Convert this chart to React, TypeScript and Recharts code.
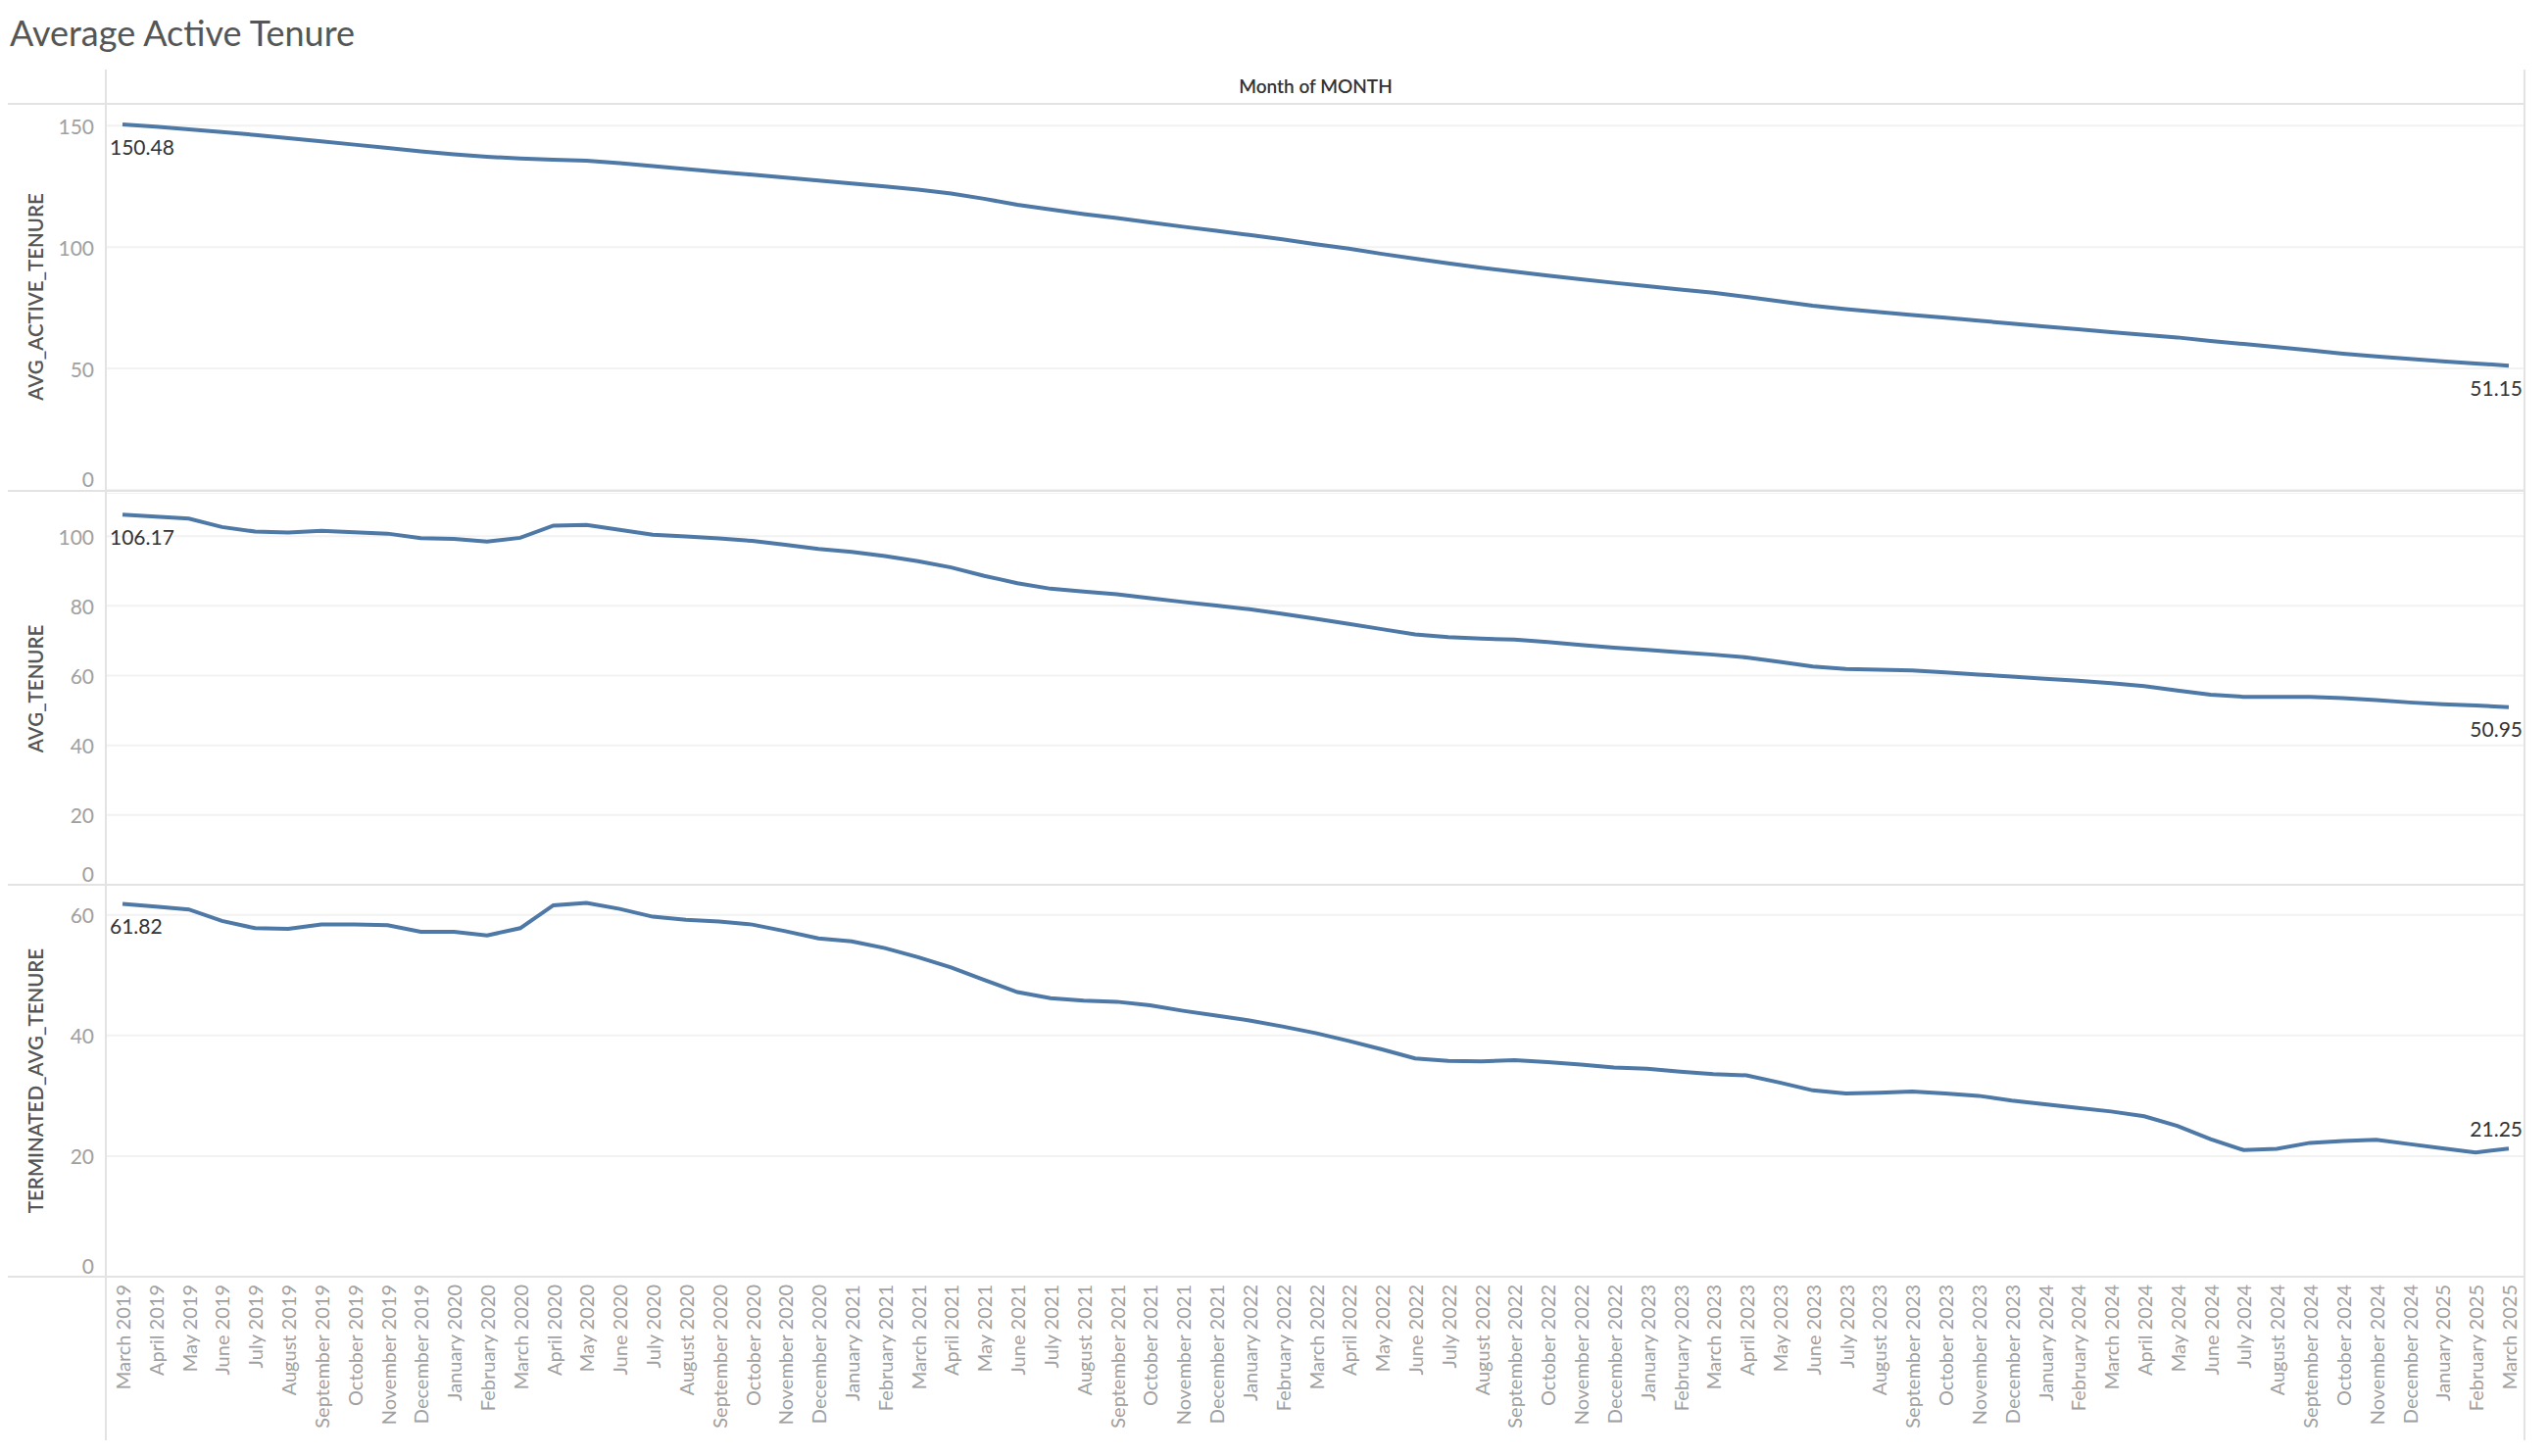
import React from 'react';
import { LineChart, Line, XAxis, YAxis, CartesianGrid, LabelList, Label } from 'recharts';

const MONTHS = [
  'March 2019', 'April 2019', 'May 2019', 'June 2019', 'July 2019', 'August 2019', 'September 2019', 'October 2019', 'November 2019', 'December 2019',
  'January 2020', 'February 2020', 'March 2020', 'April 2020', 'May 2020', 'June 2020', 'July 2020', 'August 2020', 'September 2020', 'October 2020', 'November 2020', 'December 2020',
  'January 2021', 'February 2021', 'March 2021', 'April 2021', 'May 2021', 'June 2021', 'July 2021', 'August 2021', 'September 2021', 'October 2021', 'November 2021', 'December 2021',
  'January 2022', 'February 2022', 'March 2022', 'April 2022', 'May 2022', 'June 2022', 'July 2022', 'August 2022', 'September 2022', 'October 2022', 'November 2022', 'December 2022',
  'January 2023', 'February 2023', 'March 2023', 'April 2023', 'May 2023', 'June 2023', 'July 2023', 'August 2023', 'September 2023', 'October 2023', 'November 2023', 'December 2023',
  'January 2024', 'February 2024', 'March 2024', 'April 2024', 'May 2024', 'June 2024', 'July 2024', 'August 2024', 'September 2024', 'October 2024', 'November 2024', 'December 2024',
  'January 2025', 'February 2025', 'March 2025',
];

const AVG_ACTIVE_TENURE = [
  150.48, 149.6, 148.5, 147.4, 146.2, 144.9, 143.6, 142.2, 140.8, 139.4,
  138.2, 137.2, 136.5, 136.0, 135.6, 134.6, 133.4, 132.2, 131.0, 129.8, 128.6, 127.4,
  126.2, 125.0, 123.7, 122.1, 119.9, 117.4, 115.5, 113.6, 112.0, 110.2, 108.4, 106.7,
  105.0, 103.2, 101.2, 99.4, 97.2, 95.2, 93.3, 91.5, 89.9, 88.3, 86.8, 85.3,
  83.9, 82.5, 81.2, 79.5, 77.7, 75.9, 74.5, 73.2, 72.0, 70.9, 69.7, 68.5,
  67.3, 66.2, 65.0, 63.9, 62.8, 61.3, 60.1, 58.8, 57.5, 56.1, 55.0, 54.0,
  53.0, 52.1, 51.15,
];

const AVG_TENURE = [
  106.17, 105.6, 105.0, 102.6, 101.3, 101.0, 101.5, 101.1, 100.7, 99.4,
  99.2, 98.4, 99.5, 103.0, 103.2, 101.8, 100.4, 99.9, 99.3, 98.6, 97.5, 96.3,
  95.5, 94.3, 92.8, 91.0, 88.6, 86.5, 84.9, 84.1, 83.3, 82.2, 81.1, 80.1,
  79.0, 77.7, 76.3, 74.8, 73.3, 71.8, 71.0, 70.6, 70.3, 69.6, 68.8, 68.0,
  67.4, 66.7, 66.0, 65.2, 63.9, 62.6, 61.9, 61.7, 61.5, 60.9, 60.3, 59.7,
  59.1, 58.5, 57.8, 57.0, 55.7, 54.5, 53.9, 53.9, 53.9, 53.5, 53.0, 52.3,
  51.8, 51.4, 50.95,
];

const TERMINATED_AVG_TENURE = [
  61.82, 61.4, 60.9, 59.0, 57.8, 57.7, 58.4, 58.4, 58.3, 57.2,
  57.2, 56.6, 57.8, 61.6, 62.0, 61.0, 59.7, 59.2, 58.9, 58.4, 57.3, 56.1,
  55.6, 54.5, 53.0, 51.3, 49.2, 47.2, 46.2, 45.8, 45.6, 45.0, 44.1, 43.3,
  42.5, 41.5, 40.4, 39.1, 37.7, 36.2, 35.8, 35.7, 35.9, 35.6, 35.2, 34.7,
  34.5, 34.0, 33.6, 33.4, 32.2, 30.9, 30.4, 30.5, 30.7, 30.4, 30.0, 29.2,
  28.6, 28.0, 27.4, 26.6, 25.0, 22.8, 21.0, 21.2, 22.2, 22.5, 22.7, 22.0,
  21.3, 20.6, 21.25,
];

const TICKS_ACTIVE = [0, 50, 100, 150];
const TICKS_AVG = [0, 20, 40, 60, 80, 100];
const TICKS_TERM = [0, 20, 40, 60];

const data = MONTHS.map((m, i) => ({
  month: m,
  AVG_ACTIVE_TENURE: AVG_ACTIVE_TENURE[i],
  AVG_TENURE: AVG_TENURE[i],
  TERMINATED_AVG_TENURE: TERMINATED_AVG_TENURE[i],
}));

const FONT = 'Lato, "Open Sans", sans-serif';
const LINE_COLOR = '#4E79A7';
const DIVIDER = '#e3e3e3';
const TICK_COLOR = '#a0a0a0';

const YTick = (props: any) => {
  const { x, y, payload } = props;
  const isZero = payload.value === 0;
  return (
    <text x={x} y={isZero ? y - 12 : y} textAnchor="end" dominantBaseline="central"
      fill={TICK_COLOR} fontSize={21} fontFamily={FONT}>
      {payload.value}
    </text>
  );
};

const XTick = (props: any) => {
  const { x, y, payload } = props;
  return (
    <text x={x} y={y} transform={`rotate(-90, ${x}, ${y})`} textAnchor="end" dominantBaseline="central"
      fill={TICK_COLOR} fontSize={20} fontFamily={FONT}>
      {payload.value}
    </text>
  );
};

const makeYTitle = (text: string) => (props: any) => {
  const vb = props.viewBox || {};
  const cx = (vb.x || 0) + 36;
  const cy = (vb.y || 0) + (vb.height || 0) / 2;
  return (
    <text x={cx} y={cy} transform={`rotate(-90, ${cx}, ${cy})`} textAnchor="middle" dominantBaseline="central"
      fill="#555" fontSize={20.5} fontWeight={600} fontFamily={FONT}>
      {text}
    </text>
  );
};

const makeEndLabels = (n: number, lastAbove: boolean) => (props: any) => {
  const { x, y, value, index } = props;
  if (index === 0) {
    return (
      <text x={x - 13} y={y + 22} textAnchor="start" dominantBaseline="central"
        fill="#333" fontSize={21} fontFamily={FONT}>
        {Number(value).toFixed(2)}
      </text>
    );
  }
  if (index === n - 1) {
    return (
      <text x={x + 14} y={lastAbove ? y - 21 : y + 22} textAnchor="end" dominantBaseline="central"
        fill="#333" fontSize={21} fontFamily={FONT}>
        {Number(value).toFixed(2)}
      </text>
    );
  }
  return null;
};

type PanelProps = {
  dataKey: string;
  ticks: number[];
  domain: [number, number];
  top: number;
  height: number;
  showX: boolean;
  lastAbove: boolean;
};

const Panel = ({ dataKey, ticks, domain, top, height, showX, lastAbove }: PanelProps) => (
  <div style={{ position: 'absolute', left: 0, top, width: 2600, height }}>
    <LineChart width={2600} height={height} data={data} margin={{ top: 0, right: 23, bottom: 0, left: 0 }}>
      <CartesianGrid vertical={false} stroke="#f2f2f2" strokeWidth={2} />
      <XAxis
        dataKey="month"
        hide={!showX}
        interval={0}
        padding={{ left: 17, right: 17 }}
        axisLine={false}
        tickLine={false}
        tickSize={0}
        tickMargin={8}
        height={showX ? 183 : 0}
        tick={<XTick />}
      />
      <YAxis
        width={108}
        domain={domain}
        ticks={ticks}
        interval={0}
        allowDataOverflow
        axisLine={false}
        tickLine={false}
        tickSize={0}
        tickMargin={12}
        tick={<YTick />}
      >
        <Label content={makeYTitle(dataKey)} />
      </YAxis>
      <Line
        type="linear"
        dataKey={dataKey}
        stroke={LINE_COLOR}
        strokeWidth={4}
        dot={false}
        activeDot={false}
        isAnimationActive={false}
      >
        <LabelList dataKey={dataKey} content={makeEndLabels(MONTHS.length, lastAbove)} />
      </Line>
    </LineChart>
  </div>
);

const hLine = (top: number) => (
  <div key={`h${top}`} style={{ position: 'absolute', left: 8, top, width: 2569, height: 2, background: DIVIDER }} />
);
const vLine = (left: number) => (
  <div key={`v${left}`} style={{ position: 'absolute', left, top: 71, width: 2, height: 1399, background: DIVIDER }} />
);

export default function App() {
  return (
    <div style={{ position: 'absolute', left: 0, top: 0, width: 2600, height: 1486, background: '#fff', fontFamily: FONT, overflow: 'hidden' }}>
      <div style={{ position: 'absolute', left: 10, top: 11, fontSize: 36, color: '#555', fontFamily: FONT, lineHeight: '44px' }}>
        Average Active Tenure
      </div>
      <div style={{ position: 'absolute', left: 108, width: 2469, top: 76, textAlign: 'center', fontSize: 19, fontWeight: 600, color: '#333', fontFamily: FONT, lineHeight: '24px' }}>
        Month of MONTH
      </div>
      <Panel dataKey="AVG_ACTIVE_TENURE" ticks={TICKS_ACTIVE} domain={[0, 159]} top={106} height={394} showX={false} lastAbove={false} />
      <Panel dataKey="AVG_TENURE" ticks={TICKS_AVG} domain={[0, 112.4]} top={503} height={400} showX={false} lastAbove={false} />
      <Panel dataKey="TERMINATED_AVG_TENURE" ticks={TICKS_TERM} domain={[0, 65]} top={903} height={583} showX={true} lastAbove={true} />
      {[105, 500, 902, 1302].map(hLine)}
      {[107, 2575].map(vLine)}
    </div>
  );
}
